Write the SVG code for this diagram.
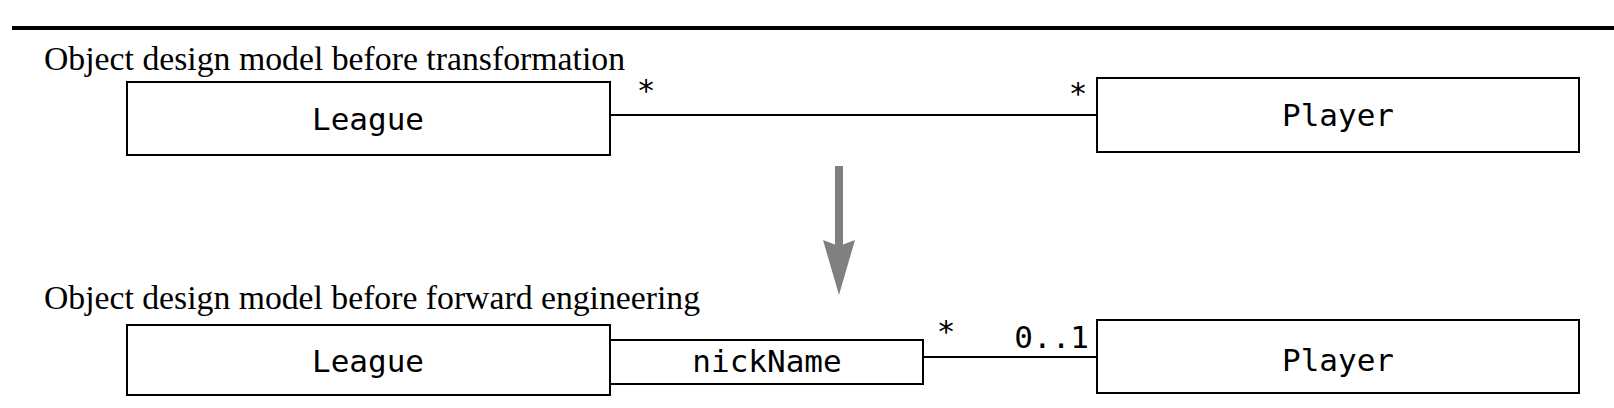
<svg xmlns="http://www.w3.org/2000/svg" width="1614" height="408" viewBox="0 0 1614 408">
<style>
.box{fill:#fff;stroke:#000;stroke-width:2}
.mono{font-family:"DejaVu Sans Mono","Liberation Mono",monospace;font-size:31px;fill:#000}
.title{font-family:"Liberation Serif","Times New Roman",serif;font-size:33px;fill:#000}
.conn{stroke:#000;stroke-width:2;fill:none}
</style>
<rect width="1614" height="408" fill="#fff"/>
<line x1="12" y1="28" x2="1614" y2="28" stroke="#000" stroke-width="4"/>
<text class="title" x="44" y="70" textLength="581" lengthAdjust="spacingAndGlyphs">Object design model before transformation</text>
<text class="title" x="44" y="309" textLength="656" lengthAdjust="spacingAndGlyphs">Object design model before forward engineering</text>
<g id="connectors">
<line class="conn" x1="610" y1="115" x2="1097" y2="115"/>
<line class="conn" x1="923" y1="357" x2="1097" y2="357"/>
<text class="mono" x="646" y="101" text-anchor="middle">*</text>
<text class="mono" x="1078" y="104" text-anchor="middle">*</text>
<text class="mono" x="946" y="342" text-anchor="middle">*</text>
<text class="mono" x="1089" y="348" text-anchor="end">0..1</text>
<g id="transform-arrow" fill="#808080">
<rect x="835" y="166" width="8" height="80"/>
<path d="M823,240 L839,246 L855,240 L839,295 Z"/>
</g>
</g>
<g id="league1">
<rect class="box" x="127" y="82" width="483" height="73"/>
<text class="mono" x="368" y="130" text-anchor="middle">League</text>
</g>
<g id="player1">
<rect class="box" x="1097" y="78" width="482" height="74"/>
<text class="mono" x="1338" y="126" text-anchor="middle">Player</text>
</g>
<g id="league2">
<rect class="box" x="127" y="325" width="483" height="70"/>
<text class="mono" x="368" y="372" text-anchor="middle">League</text>
</g>
<g id="nickName">
<rect class="box" x="610" y="340" width="313" height="44"/>
<text class="mono" x="767" y="372" text-anchor="middle">nickName</text>
</g>
<g id="player2">
<rect class="box" x="1097" y="320" width="482" height="73"/>
<text class="mono" x="1338" y="371" text-anchor="middle">Player</text>
</g>
</svg>
